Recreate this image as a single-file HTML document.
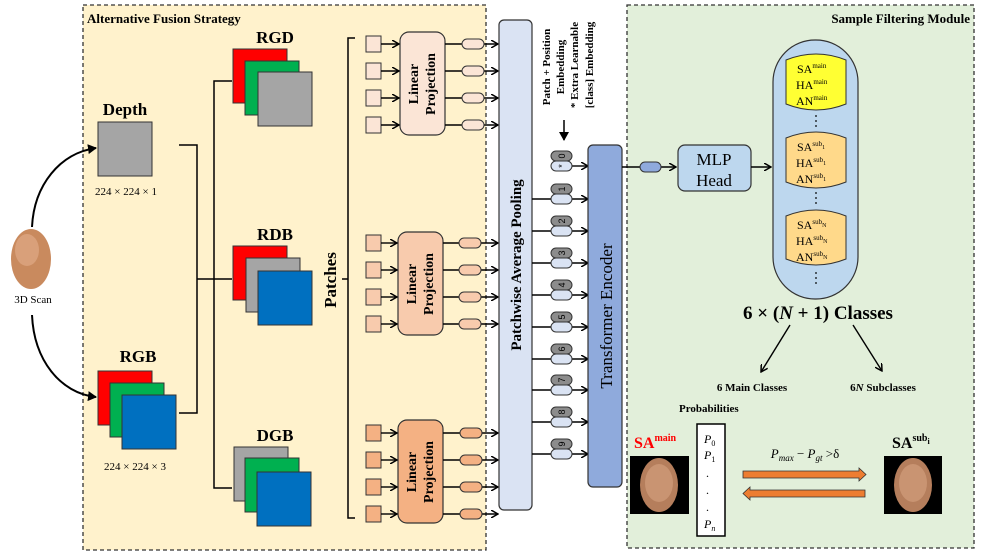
<!DOCTYPE html>
<html><head><meta charset="utf-8"><style>
html,body{margin:0;padding:0;background:#fff;}
svg{display:block;font-family:"Liberation Serif",serif;}
</style></head><body>
<svg width="981" height="552" viewBox="0 0 981 552" xmlns="http://www.w3.org/2000/svg">
<defs>
<marker id="ar" markerWidth="8" markerHeight="8" refX="7" refY="4" orient="auto" markerUnits="userSpaceOnUse"><path d="M0,0 L7,4 L0,8" fill="none" stroke="#000" stroke-width="1.5"/></marker>
<marker id="af" markerWidth="10" markerHeight="10" refX="8" refY="5" orient="auto" markerUnits="userSpaceOnUse"><path d="M0,0 L9,5 L0,10 Z" fill="#000"/></marker>
</defs>
<rect x="83" y="5" width="403" height="545" fill="#fff2cc" stroke="#333" stroke-width="1.3" stroke-dasharray="4,3"/>
<rect x="627" y="5" width="347" height="543" fill="#e2efda" stroke="#333" stroke-width="1.3" stroke-dasharray="4,3"/>
<text x="87" y="23" font-size="13" font-weight="bold">Alternative Fusion Strategy</text>
<text x="970" y="23" font-size="13" font-weight="bold" text-anchor="end">Sample Filtering Module</text>

<ellipse cx="31" cy="259" rx="20" ry="30" fill="#c98a5e"/>
<ellipse cx="27" cy="250" rx="12" ry="16" fill="#d9a07a"/>
<text x="33" y="303" font-size="11" text-anchor="middle">3D  Scan</text>
<path d="M32,227 C34,185 60,153 96,148" fill="none" stroke="#000" stroke-width="2" marker-end="url(#af)"/>
<path d="M32,315 C34,360 60,393 96,397" fill="none" stroke="#000" stroke-width="2" marker-end="url(#af)"/>

<text x="125" y="115" font-size="17" font-weight="bold" text-anchor="middle">Depth</text>
<rect x="98" y="122" width="54" height="54" fill="#a5a5a5" stroke="#333" stroke-width="1"/>
<text x="126" y="195" font-size="11" text-anchor="middle">224 × 224 × 1</text>
<text x="138" y="362" font-size="17" font-weight="bold" text-anchor="middle">RGB</text>
<rect x="98" y="371" width="54" height="54" fill="#ff0000" stroke="#333"/>
<rect x="110" y="383" width="54" height="54" fill="#00b050" stroke="#333"/>
<rect x="122" y="395" width="54" height="54" fill="#0070c0" stroke="#333"/>
<text x="135" y="470" font-size="11" text-anchor="middle">224 × 224 × 3</text>

<g fill="none" stroke="#000" stroke-width="1.5">
<path d="M179,145 H197 V413 H179"/>
<path d="M197,279 H232"/>
<path d="M232,81 H214 V488 H232"/>
</g>

<text x="275" y="43" font-size="17" font-weight="bold" text-anchor="middle">RGD</text>
<rect x="233" y="49" width="54" height="54" fill="#ff0000" stroke="#333"/>
<rect x="245" y="61" width="54" height="54" fill="#00b050" stroke="#333"/>
<rect x="258" y="72" width="54" height="54" fill="#a5a5a5" stroke="#333"/>
<text x="275" y="240" font-size="17" font-weight="bold" text-anchor="middle">RDB</text>
<rect x="233" y="246" width="54" height="54" fill="#ff0000" stroke="#333"/>
<rect x="246" y="258" width="54" height="54" fill="#a5a5a5" stroke="#333"/>
<rect x="258" y="271" width="54" height="54" fill="#0070c0" stroke="#333"/>
<text x="275" y="441" font-size="17" font-weight="bold" text-anchor="middle">DGB</text>
<rect x="234" y="447" width="54" height="54" fill="#a5a5a5" stroke="#333"/>
<rect x="245" y="458" width="54" height="54" fill="#00b050" stroke="#333"/>
<rect x="257" y="472" width="54" height="54" fill="#0070c0" stroke="#333"/>

<text transform="translate(336,280) rotate(-90)" font-size="17" font-weight="bold" text-anchor="middle">Patches</text>
<path d="M355,38 H348 V518 H355 M348,279 H342" fill="none" stroke="#000" stroke-width="1.5"/>

<g stroke="#333" stroke-width="1.2">
<rect x="400" y="32" width="45" height="103" rx="9" fill="#fbe5d6"/>
<rect x="398" y="232" width="45" height="103" rx="9" fill="#f8cbad"/>
<rect x="398" y="420" width="45" height="103" rx="9" fill="#f4b183"/>
</g>
<g font-size="14" font-weight="bold" text-anchor="middle">
<text transform="translate(422,84) rotate(-90)"><tspan x="0" y="-4">Linear</tspan><tspan x="0" y="13">Projection</tspan></text>
<text transform="translate(420,284) rotate(-90)"><tspan x="0" y="-4">Linear</tspan><tspan x="0" y="13">Projection</tspan></text>
<text transform="translate(420,472) rotate(-90)"><tspan x="0" y="-4">Linear</tspan><tspan x="0" y="13">Projection</tspan></text>
</g>
<g stroke="#333" stroke-width="1">
<rect x="366" y="36" width="15" height="16" fill="#fbe5d6"/><rect x="366" y="63" width="15" height="16" fill="#fbe5d6"/><rect x="366" y="90" width="15" height="16" fill="#fbe5d6"/><rect x="366" y="117" width="15" height="16" fill="#fbe5d6"/>
<rect x="366" y="235" width="15" height="16" fill="#f8cbad"/><rect x="366" y="262" width="15" height="16" fill="#f8cbad"/><rect x="366" y="289" width="15" height="16" fill="#f8cbad"/><rect x="366" y="316" width="15" height="16" fill="#f8cbad"/>
<rect x="366" y="425" width="15" height="16" fill="#f4b183"/><rect x="366" y="452" width="15" height="16" fill="#f4b183"/><rect x="366" y="479" width="15" height="16" fill="#f4b183"/><rect x="366" y="506" width="15" height="16" fill="#f4b183"/>
</g>
<g stroke="#000" stroke-width="1.4" fill="none" marker-end="url(#ar)">
<path d="M381,44 H399"/><path d="M381,71 H399"/><path d="M381,98 H399"/><path d="M381,125 H399"/>
<path d="M381,243 H397"/><path d="M381,270 H397"/><path d="M381,297 H397"/><path d="M381,324 H397"/>
<path d="M381,433 H397"/><path d="M381,460 H397"/><path d="M381,487 H397"/><path d="M381,514 H397"/>
<path d="M445,44 H498"/><path d="M445,71 H498"/><path d="M445,98 H498"/><path d="M445,125 H498"/>
<path d="M443,243 H498"/><path d="M443,270 H498"/><path d="M443,297 H498"/><path d="M443,324 H498"/>
<path d="M443,433 H498"/><path d="M443,460 H498"/><path d="M443,487 H498"/><path d="M443,514 H498"/>
</g>
<g stroke="#333" stroke-width="1">
<rect x="462" y="39" width="22" height="10" rx="5" fill="#fbe5d6"/><rect x="462" y="66" width="22" height="10" rx="5" fill="#fbe5d6"/><rect x="462" y="93" width="22" height="10" rx="5" fill="#fbe5d6"/><rect x="462" y="120" width="22" height="10" rx="5" fill="#fbe5d6"/>
<rect x="459" y="238" width="22" height="10" rx="5" fill="#f8cbad"/><rect x="459" y="265" width="22" height="10" rx="5" fill="#f8cbad"/><rect x="459" y="292" width="22" height="10" rx="5" fill="#f8cbad"/><rect x="459" y="319" width="22" height="10" rx="5" fill="#f8cbad"/>
<rect x="460" y="428" width="22" height="10" rx="5" fill="#f4b183"/><rect x="460" y="455" width="22" height="10" rx="5" fill="#f4b183"/><rect x="460" y="482" width="22" height="10" rx="5" fill="#f4b183"/><rect x="460" y="509" width="22" height="10" rx="5" fill="#f4b183"/>
</g>

<rect x="499" y="20" width="33" height="490" rx="5" fill="#dae3f3" stroke="#333" stroke-width="1.2"/>
<text transform="translate(521,265) rotate(-90)" font-size="15" font-weight="bold" text-anchor="middle">Patchwise Average Pooling</text>

<g font-size="11" font-weight="bold" text-anchor="middle">
<text transform="translate(550,67) rotate(-90)">Patch + Position</text>
<text transform="translate(564,67) rotate(-90)">Embedding</text>
<text transform="translate(578,65) rotate(-90)">* Extra Learnable</text>
<text transform="translate(593,65) rotate(-90)">[class] Embedding</text>
</g>
<path d="M564,120 V140" stroke="#000" stroke-width="1.5" marker-end="url(#af)"/>

<g stroke="#000" stroke-width="1.4" fill="none" marker-end="url(#ar)">
<path d="M572,166 H588"/>
<path d="M532,199 H588"/><path d="M532,231 H588"/><path d="M532,263 H588"/><path d="M532,295 H588"/><path d="M532,327 H588"/><path d="M532,359 H588"/><path d="M532,390 H588"/><path d="M532,422 H588"/><path d="M532,454 H588"/>
</g>
<g stroke="#333" stroke-width="1">
<rect x="551" y="151" width="21" height="10" rx="5" fill="#8c8c8c"/><rect x="551" y="161" width="21" height="10" rx="5" fill="#dae3f3"/>
<rect x="551" y="184" width="21" height="10" rx="5" fill="#8c8c8c"/><rect x="551" y="194" width="21" height="10" rx="5" fill="#dae3f3"/>
<rect x="551" y="216" width="21" height="10" rx="5" fill="#8c8c8c"/><rect x="551" y="226" width="21" height="10" rx="5" fill="#dae3f3"/>
<rect x="551" y="248" width="21" height="10" rx="5" fill="#8c8c8c"/><rect x="551" y="258" width="21" height="10" rx="5" fill="#dae3f3"/>
<rect x="551" y="280" width="21" height="10" rx="5" fill="#8c8c8c"/><rect x="551" y="290" width="21" height="10" rx="5" fill="#dae3f3"/>
<rect x="551" y="312" width="21" height="10" rx="5" fill="#8c8c8c"/><rect x="551" y="322" width="21" height="10" rx="5" fill="#dae3f3"/>
<rect x="551" y="344" width="21" height="10" rx="5" fill="#8c8c8c"/><rect x="551" y="354" width="21" height="10" rx="5" fill="#dae3f3"/>
<rect x="551" y="375" width="21" height="10" rx="5" fill="#8c8c8c"/><rect x="551" y="385" width="21" height="10" rx="5" fill="#dae3f3"/>
<rect x="551" y="407" width="21" height="10" rx="5" fill="#8c8c8c"/><rect x="551" y="417" width="21" height="10" rx="5" fill="#dae3f3"/>
<rect x="551" y="439" width="21" height="10" rx="5" fill="#8c8c8c"/><rect x="551" y="449" width="21" height="10" rx="5" fill="#dae3f3"/>
</g>
<g font-size="9" font-family="Liberation Sans,sans-serif" text-anchor="middle">
<text transform="translate(565,156) rotate(-90)">0</text>
<text transform="translate(565,166) rotate(-90)">*</text>
<text transform="translate(565,189) rotate(-90)">1</text>
<text transform="translate(565,221) rotate(-90)">2</text>
<text transform="translate(565,253) rotate(-90)">3</text>
<text transform="translate(565,285) rotate(-90)">4</text>
<text transform="translate(565,317) rotate(-90)">5</text>
<text transform="translate(565,349) rotate(-90)">6</text>
<text transform="translate(565,380) rotate(-90)">7</text>
<text transform="translate(565,412) rotate(-90)">8</text>
<text transform="translate(565,444) rotate(-90)">9</text>
</g>

<rect x="588" y="145" width="34" height="342" rx="5" fill="#8faadc" stroke="#333" stroke-width="1.2"/>
<text transform="translate(612,316) rotate(-90)" font-size="17" text-anchor="middle">Transformer Encoder</text>

<path d="M622,167 H676" stroke="#000" stroke-width="1.4" fill="none" marker-end="url(#ar)"/>
<rect x="640" y="162" width="21" height="10" rx="5" fill="#8faadc" stroke="#333"/>
<rect x="678" y="145" width="73" height="46" rx="7" fill="#bdd7ee" stroke="#333" stroke-width="1.2"/>
<text x="714" y="165" font-size="17" text-anchor="middle">MLP</text>
<text x="714" y="186" font-size="17" text-anchor="middle">Head</text>
<path d="M751,167 H771" stroke="#000" stroke-width="1.4" fill="none" marker-end="url(#ar)"/>

<rect x="773" y="40" width="85" height="259" rx="42" fill="#bdd7ee" stroke="#333" stroke-width="1.2"/>
<path d="M786,60 Q816,48 846,60 V104 Q816,116 786,104 Z" fill="#ffff33" stroke="#333"/>
<path d="M786,138 Q816,126 846,138 V182 Q816,194 786,182 Z" fill="#ffd98a" stroke="#333"/>
<path d="M786,216 Q816,204 846,216 V259 Q816,271 786,259 Z" fill="#ffd98a" stroke="#333"/>
<g font-size="12">
<text x="797" y="73">SA<tspan font-size="7" dy="-5">main</tspan></text>
<text x="796" y="89">HA<tspan font-size="7" dy="-5">main</tspan></text>
<text x="796" y="105">AN<tspan font-size="7" dy="-5">main</tspan></text>
<text x="797" y="151">SA<tspan font-size="7" dy="-5">sub</tspan><tspan font-size="6" dy="3">1</tspan></text>
<text x="796" y="167">HA<tspan font-size="7" dy="-5">sub</tspan><tspan font-size="6" dy="3">1</tspan></text>
<text x="796" y="183">AN<tspan font-size="7" dy="-5">sub</tspan><tspan font-size="6" dy="3">1</tspan></text>
<text x="797" y="229">SA<tspan font-size="7" dy="-5">sub</tspan><tspan font-size="6" dy="3">N</tspan></text>
<text x="796" y="245">HA<tspan font-size="7" dy="-5">sub</tspan><tspan font-size="6" dy="3">N</tspan></text>
<text x="796" y="261">AN<tspan font-size="7" dy="-5">sub</tspan><tspan font-size="6" dy="3">N</tspan></text>
</g>
<g fill="#000"><circle cx="816" cy="116" r="0.9"/><circle cx="816" cy="121" r="0.9"/><circle cx="816" cy="126" r="0.9"/>
<circle cx="816" cy="193" r="0.9"/><circle cx="816" cy="198" r="0.9"/><circle cx="816" cy="203" r="0.9"/>
<circle cx="816" cy="273" r="0.9"/><circle cx="816" cy="278" r="0.9"/><circle cx="816" cy="283" r="0.9"/></g>

<text x="818" y="319" font-size="19" font-weight="bold" text-anchor="middle">6 × (<tspan font-style="italic">N</tspan> + 1) Classes</text>
<path d="M790,325 L761,372" stroke="#000" stroke-width="1.4" marker-end="url(#ar)"/>
<path d="M853,325 L882,371" stroke="#000" stroke-width="1.4" marker-end="url(#ar)"/>
<text x="752" y="391" font-size="11" font-weight="bold" text-anchor="middle">6 Main Classes</text>
<text x="883" y="391" font-size="11" font-weight="bold" text-anchor="middle">6<tspan font-style="italic">N</tspan>  Subclasses</text>
<text x="679" y="412" font-size="11" font-weight="bold">Probabilities</text>

<rect x="697" y="424" width="28" height="112" fill="#fff" stroke="#000" stroke-width="1.5"/>
<g font-size="12" font-style="italic">
<text x="704" y="443">P<tspan font-size="8" dy="3" font-style="normal">0</tspan></text>
<text x="704" y="459">P<tspan font-size="8" dy="3" font-style="normal">1</tspan></text>
<text x="706" y="477" font-style="normal">.</text>
<text x="706" y="494" font-style="normal">.</text>
<text x="706" y="511" font-style="normal">.</text>
<text x="704" y="528">P<tspan font-size="8" dy="3">n</tspan></text>
</g>

<text x="634" y="448" font-size="16" font-weight="bold" fill="#ff0000">SA<tspan font-size="10" dy="-7">main</tspan></text>
<rect x="630" y="456" width="59" height="58" fill="#000"/>
<ellipse cx="659" cy="485" rx="19" ry="27" fill="#b57e5c"/>
<ellipse cx="659" cy="483" rx="14" ry="19" fill="#c99472"/>
<text x="892" y="448" font-size="16" font-weight="bold">SA<tspan font-size="10" dy="-7">sub</tspan><tspan font-size="8" dy="3">i</tspan></text>
<rect x="884" y="456" width="58" height="58" fill="#000"/>
<ellipse cx="913" cy="485" rx="19" ry="27" fill="#b57e5c"/>
<ellipse cx="913" cy="483" rx="14" ry="19" fill="#c99472"/>

<text x="805" y="458" font-size="13" font-style="italic" text-anchor="middle">P<tspan font-size="9" dy="3">max</tspan><tspan dy="-3" font-style="normal"> − </tspan>P<tspan font-size="9" dy="3">gt</tspan><tspan dy="-3" font-style="normal"> &gt;δ</tspan></text>
<path d="M743,471 H859 V468 L866,474.5 L859,481 V478 H743 Z" fill="#ed7d31" stroke="#333" stroke-width="0.8"/>
<path d="M865,490 H750 V487 L743,493.5 L750,500 V497 H865 Z" fill="#ed7d31" stroke="#333" stroke-width="0.8"/>
</svg>
</body></html>
